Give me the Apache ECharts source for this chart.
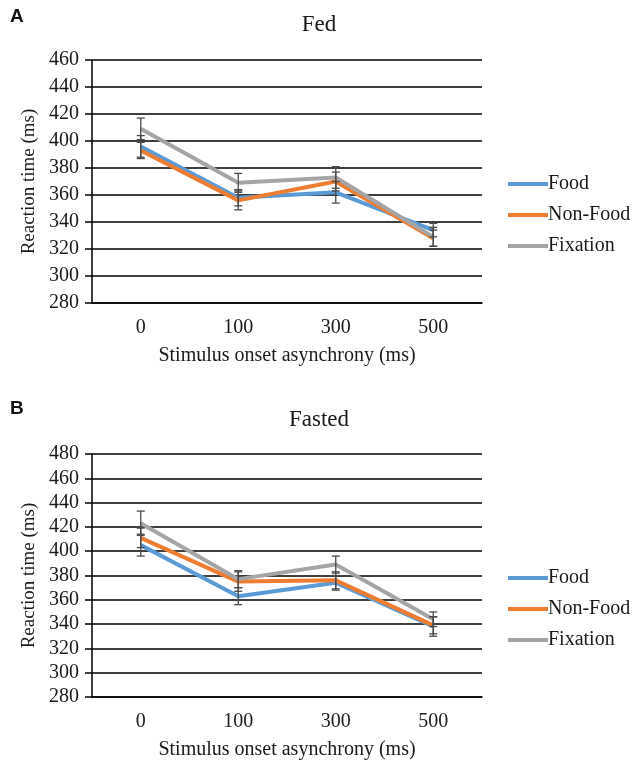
<!DOCTYPE html>
<html><head><meta charset="utf-8">
<script src="https://cdn.jsdelivr.net/npm/echarts@6/dist/echarts.min.js"></script>
<style>html,body{margin:0;padding:0;background:#fff}#c{width:638px;height:769px}</style>
</head><body><div id="c"></div>
<script>
const categories = ['0', '100', '300', '500'];
const seriesNames = ['Food', 'Non-Food', 'Fixation'];
const colors = ['#5B9BD5', '#ED7D31', '#A5A5A5'];

// Panel A: Fed
const fedFood = [396, 358, 362, 334];
const fedFoodErr = [8, 6, 8, 5];
const fedNonFood = [393, 356, 370, 328];
const fedNonFoodErr = [6, 7, 7, 6];
const fedFixation = [409, 369, 373, 329];
const fedFixationErr = [8, 7, 8, 7];

// Panel B: Fasted
const fastedFood = [405, 363, 374, 338];
const fastedFoodErr = [9, 7, 6, 8];
const fastedNonFood = [411, 375, 376, 339];
const fastedNonFoodErr = [8, 8, 7, 7];
const fastedFixation = [423, 377, 389, 344];
const fastedFixationErr = [10, 7, 7, 6];

const fedTicks = {min: 280, max: 460, interval: 20};
const fastedTicks = {min: 280, max: 480, interval: 20};

const serif = '"Liberation Serif", "Times New Roman", serif';

const fedSets = [[fedFood, fedFoodErr], [fedNonFood, fedNonFoodErr], [fedFixation, fedFixationErr]];
const fastedSets = [[fastedFood, fastedFoodErr], [fastedNonFood, fastedNonFoodErr], [fastedFixation, fastedFixationErr]];

function errRender(params, api) {
  const x = api.value(0);
  const lo = api.coord([x, api.value(1)]);
  const hi = api.coord([x, api.value(2)]);
  const w = 4;
  const st = {stroke: '#4a4a4a', lineWidth: 1.3};
  return {type: 'group', children: [
    {type: 'line', shape: {x1: lo[0], y1: lo[1], x2: hi[0], y2: hi[1]}, style: st},
    {type: 'line', shape: {x1: lo[0]-w, y1: lo[1], x2: lo[0]+w, y2: lo[1]}, style: st},
    {type: 'line', shape: {x1: hi[0]-w, y1: hi[1], x2: hi[0]+w, y2: hi[1]}, style: st}
  ]};
}

function makeAxes(gi, ticks) {
  const x = {
    type: 'category', gridIndex: gi, data: categories, boundaryGap: true,
    axisLine: {show: true, lineStyle: {color: '#000', width: 1.5}},
    axisTick: {show: false},
    axisLabel: {color: '#1a1a1a', fontFamily: serif, fontSize: 20, margin: 15},
    name: 'Stimulus onset asynchrony (ms)', nameLocation: 'middle', nameGap: 43,
    nameTextStyle: {color: '#1a1a1a', fontFamily: serif, fontSize: 20}
  };
  const y = {
    type: 'value', gridIndex: gi, min: ticks.min, max: ticks.max, interval: ticks.interval,
    axisLine: {show: true, lineStyle: {color: '#000', width: 1.5}},
    axisTick: {show: true, length: 7, lineStyle: {color: '#000', width: 1.5}},
    splitLine: {show: true, lineStyle: {color: '#000', width: 1.5}},
    axisLabel: {color: '#1a1a1a', fontFamily: serif, fontSize: 20, margin: 13},
    name: 'Reaction time (ms)', nameLocation: 'middle', nameGap: 52, nameRotate: 90,
    nameTextStyle: {color: '#1a1a1a', fontFamily: serif, fontSize: 19}
  };
  return [x, y];
}

const a1 = makeAxes(0, fedTicks), a2 = makeAxes(1, fastedTicks);

const series = [];
[[fedSets, 0], [fastedSets, 1]].forEach(([sets, gi]) => {
  sets.forEach(([vals, errs], i) => {
    series.push({
      name: seriesNames[i], type: 'line', xAxisIndex: gi, yAxisIndex: gi,
      data: vals, symbol: 'none', z: 3,
      lineStyle: {color: colors[i], width: 4}, itemStyle: {color: colors[i]}
    });
  });
  sets.forEach(([vals, errs], i) => {
    series.push({
      type: 'custom', xAxisIndex: gi, yAxisIndex: gi, z: 4,
      renderItem: errRender,
      data: vals.map((v, k) => [k, v - errs[k], v + errs[k]]),
      encode: {x: 0, y: [1, 2]}, silent: true
    });
  });
});

const legendBase = {
  orient: 'vertical', left: 503, itemWidth: 40, itemHeight: 14, itemGap: 11,
  icon: 'path://M0,6 L40,6 L40,10 L0,10 Z',
  textStyle: {color: '#1a1a1a', fontFamily: serif, fontSize: 20, padding: [0, 0, 0, -5]},
  data: seriesNames
};

const option = {
  backgroundColor: '#fff',
  animation: false,
  title: [
    {text: 'Fed', left: 'center', top: 8, textStyle: {fontFamily: serif, fontSize: 23, fontWeight: 'normal', color: '#1a1a1a'}},
    {text: 'Fasted', left: 'center', top: 403, textStyle: {fontFamily: serif, fontSize: 23, fontWeight: 'normal', color: '#1a1a1a'}},
    {text: 'A', left: 5, top: 2, textStyle: {fontFamily: '"Liberation Sans", Arial, sans-serif', fontSize: 19, fontWeight: 'bold', color: '#111'}},
    {text: 'B', left: 5, top: 394, textStyle: {fontFamily: '"Liberation Sans", Arial, sans-serif', fontSize: 19, fontWeight: 'bold', color: '#111'}}
  ],
  legend: [
    Object.assign({}, legendBase, {top: 169}),
    Object.assign({}, legendBase, {top: 563})
  ],
  grid: [
    {left: 92, right: 156, top: 60, height: 243},
    {left: 92, right: 156, top: 454, height: 243}
  ],
  xAxis: [a1[0], a2[0]],
  yAxis: [a1[1], a2[1]],
  series: series
};

const chart = echarts.init(document.getElementById('c'), null, {renderer: 'canvas'});
chart.setOption(option);
</script>
</body></html>
